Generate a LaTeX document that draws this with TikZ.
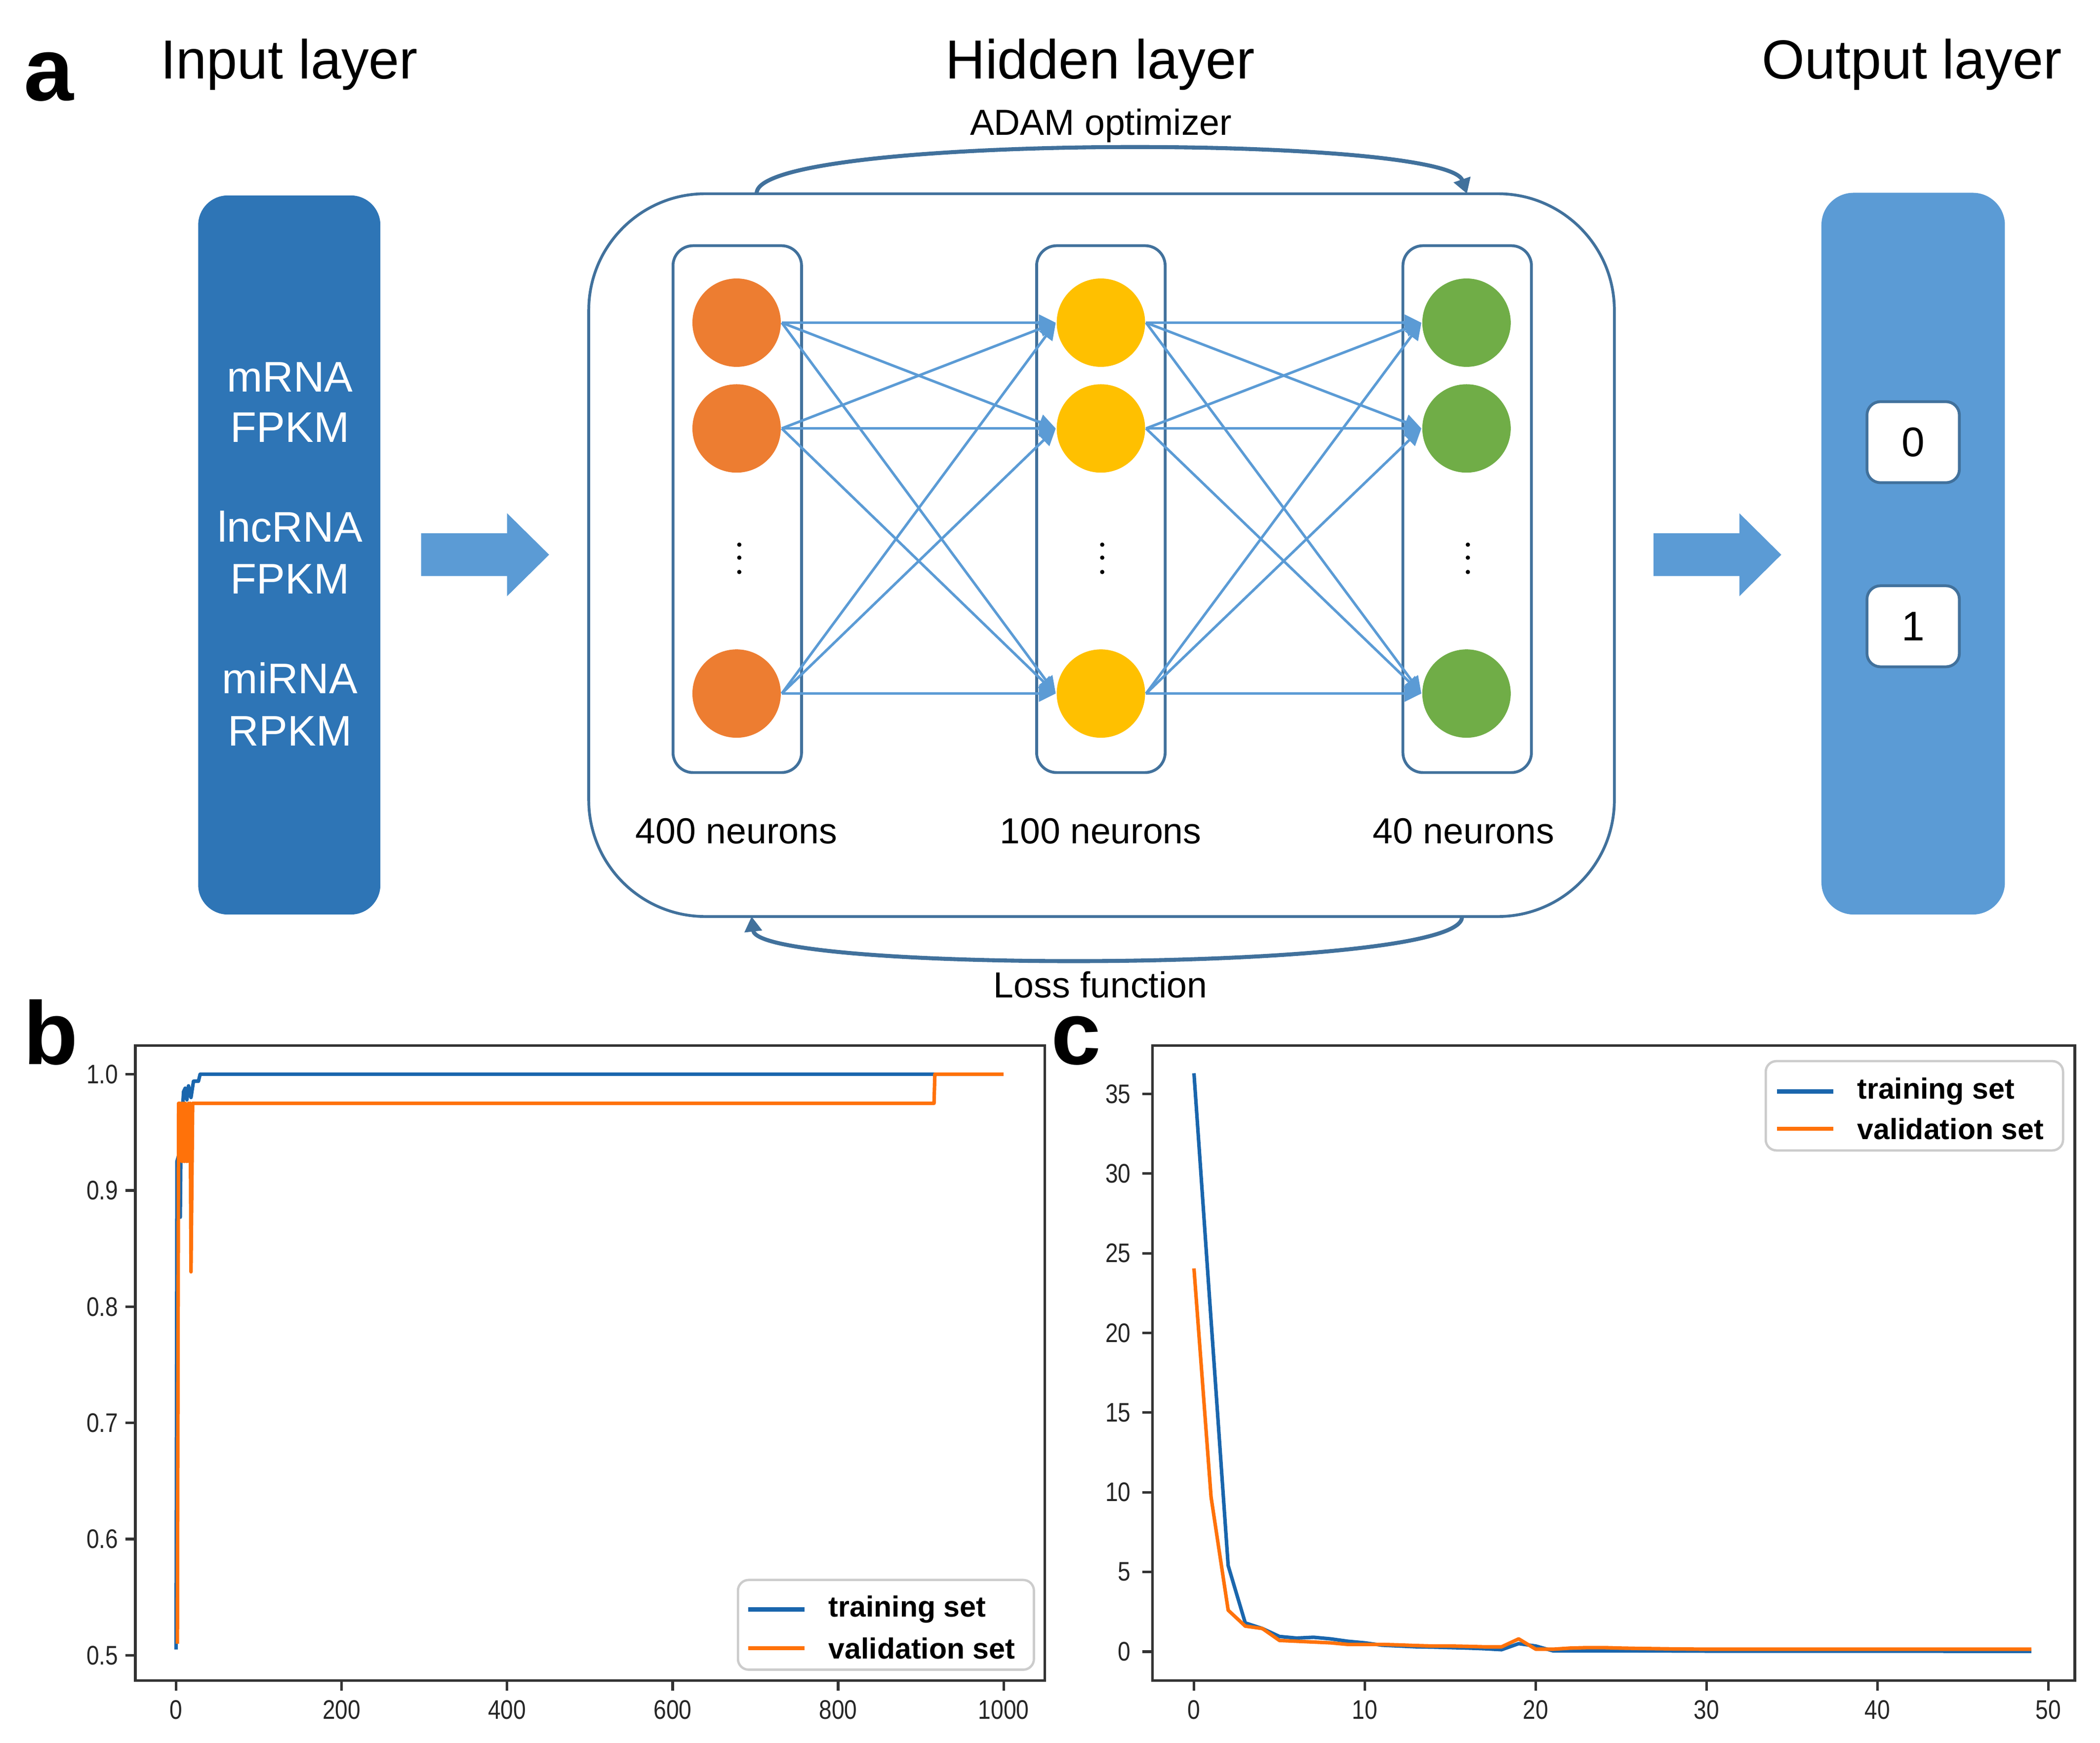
\documentclass[tikz,border=0pt]{standalone}
\usepackage{fontspec}
\setmainfont{Liberation Sans}
\newfontfamily\narrowsans[FakeStretch=0.85]{Liberation Sans}
\usetikzlibrary{arrows.meta}
\definecolor{inblue}{HTML}{2E75B6}
\definecolor{lblue}{HTML}{5B9BD5}
\definecolor{edgeblue}{HTML}{41719C}
\definecolor{norange}{HTML}{ED7D31}
\definecolor{nyellow}{HTML}{FFC000}
\definecolor{ngreen}{HTML}{70AD47}
\definecolor{pblue}{HTML}{1A66AD}
\definecolor{porange}{HTML}{FF720A}
\begin{document}
\begin{tikzpicture}[x=0.1mm,y=-0.1mm,
  title/.style={anchor=base,inner sep=0,font=\fontsize{11.7}{14}\selectfont},
  smalltxt/.style={anchor=base,inner sep=0,font=\fontsize{7.7}{9}\selectfont},
  intext/.style={anchor=base,inner sep=0,text=white,font=\fontsize{9.1}{11}\selectfont},
  panel/.style={anchor=base,inner sep=0,font=\bfseries\fontsize{19}{22}\selectfont},
  neuron/.style={circle,minimum size=6.6mm,inner sep=0},
  colbox/.style={draw=edgeblue,line width=0.6pt,rounded corners=1.5mm,minimum width=9.6mm,minimum height=39.35mm,inner sep=0},
  outsmall/.style={draw=edgeblue,line width=0.6pt,fill=white,rounded corners=1mm,minimum width=6.9mm,minimum height=6.05mm,inner sep=0,font=\fontsize{8.8}{10}\selectfont},
  conn/.style={draw=lblue,line width=0.55pt,-{Triangle[length=3.6pt,width=3.4pt]}},
  loopar/.style={draw=edgeblue,line width=0.85pt,-{Triangle[length=3.2pt,width=3.6pt]}},
  blockar/.style={fill=lblue},
  frame/.style={draw=black!80,line width=0.55pt},
  tickst/.style={draw=black!80,line width=0.55pt},
  ticklab/.style={inner sep=0,text=black!85,font=\narrowsans\fontsize{5.7}{6.5}\selectfont},
  legbox/.style={draw=black!20,line width=0.5pt,fill=white,rounded corners=0.8mm},
  legtext/.style={anchor=west,inner sep=0,font=\bfseries\fontsize{6.2}{7}\selectfont},
  blueline/.style={draw=pblue,line width=0.75pt,line join=round},
  orangeline/.style={draw=porange,line width=0.75pt,line join=round},
  legblue/.style={draw=pblue,line width=0.9pt},
  legorange/.style={draw=porange,line width=0.9pt}
]
\useasboundingbox (0,0) rectangle (1568,1301.75);

% ---------- panel a ----------
\node[panel] (la) at (36.5,75) {a};
\node[title] (tin) at (216,58.8) {Input layer};
\node[title] (thid) at (821.5,58.8) {Hidden layer};
\node[title] (tout) at (1427.5,58.8) {Output layer};
\node[smalltxt] (adam) at (822,101) {ADAM optimizer};

% input box
\node[fill=inblue,rounded corners=2.2mm,minimum width=13.6mm,minimum height=53.7mm,inner sep=0] (inbox) at (216,414.5) {};
\node[intext] (i1) at (216.5,292.6) {mRNA};
\node[intext] (i2) at (216.5,330.3) {FPKM};
\node[intext] (i3) at (216.5,404.8) {lncRNA};
\node[intext] (i4) at (216.5,443.3) {FPKM};
\node[intext] (i5) at (216.5,518.1) {miRNA};
\node[intext] (i6) at (216.5,557.2) {RPKM};

% block arrows
\fill[blockar] (314.4,398.3) -- (378.6,398.3) -- (378.6,383.3) -- (410,414.3) -- (378.6,445.3) -- (378.6,430.2) -- (314.4,430.2) -- cycle;
\fill[blockar] (1234.7,398.3) -- (1298.7,398.3) -- (1298.7,383.3) -- (1330,414.3) -- (1298.7,445.3) -- (1298.7,430.2) -- (1234.7,430.2) -- cycle;

% hidden container
\node[draw=edgeblue,line width=0.6pt,rounded corners=8.7mm,minimum width=76.58mm,minimum height=53.98mm,inner sep=0] (hid) at (822.5,414.6) {};

% loops
\coordinate (adamL) at (565,144.7);
\coordinate (adamR) at (1095.3,144.7);
\coordinate (lossR) at (1091.6,684.5);
\coordinate (lossL) at (561.2,684.5);
\draw[loopar] (adamL) .. controls (562,100) and (1080,100) .. (adamR);
\draw[loopar] (lossR) .. controls (1095,727) and (566,727) .. (lossL);
\node[smalltxt] (loss) at (821.6,745) {Loss function};

% columns
\node[colbox] (c1) at (550.5,380.25) {};
\node[colbox] (c2) at (822,380.25) {};
\node[colbox] (c3) at (1095.5,380.25) {};

% neurons
\foreach \i/\yy in {1/241,2/320,3/518}{
  \node[neuron,fill=norange] (o\i) at (550,\yy) {};
  \node[neuron,fill=nyellow] (y\i) at (822,\yy) {};
  \node[neuron,fill=ngreen] (g\i) at (1095,\yy) {};
}
\foreach \s in {1,2,3}{
  \foreach \t in {1,2,3}{
    \draw[conn] (o\s.east) -- (y\t.west);
    \draw[conn] (y\s.east) -- (g\t.west);
  }
}
% vertical dots
\foreach \cx in {552,823,1096}{
  \foreach \dy in {406.8,416.5,427.2}{
    \fill (\cx,\dy) circle[radius=0.16mm];
  }
}
\node[smalltxt] (n400) at (549.8,630) {400 neurons};
\node[smalltxt] (n100) at (821.8,630) {100 neurons};
\node[smalltxt] (n40) at (1092.8,630) {40 neurons};

% output box
\node[fill=lblue,rounded corners=2.4mm,minimum width=13.7mm,minimum height=53.9mm,inner sep=0] (outbox) at (1428.5,413.5) {};
\node[outsmall] (box0) at (1428.5,330.25) {0};
\node[outsmall] (box1) at (1428.5,467.75) {1};

% ---------- panel b ----------
\node[panel] (lb) at (38,795) {b};
\draw[frame] (101,781) rectangle (780,1255);
\foreach \v [count=\i] in {0.5,0.6,0.7,0.8,0.9,1.0}{
  \pgfmathsetmacro\Y{1670.3-\v*868}
  \draw[tickst] (93.5,\Y) -- (101,\Y);
  \node[ticklab,anchor=east] (byl\i) at (89,\Y) {\v};
}
\foreach \v [count=\i] in {0,200,400,600,800,1000}{
  \pgfmathsetmacro\X{131.5+\v*0.6179}
  \draw[tickst] (\X,1255) -- (\X,1262.6);
  \node[ticklab] (bxl\i) at (\X,1277) {\v};
}
\begin{scope}[shift={(131.5,1670.3)},x=0.06179mm,y=86.8mm]
\draw[blueline] plot coordinates {(0,0.505) (1,0.925) (3,0.93) (5,0.877) (6,0.95) (9,0.985) (11,0.988) (13,0.978) (15,0.99) (18,0.98) (21,0.994) (27,0.994) (29,1.0) (1000,1.0)};
\draw[orangeline] plot coordinates {(1.5,0.51) (3,0.975) (5,0.975) (7,0.925) (8,0.975) (10,0.925) (11,0.975) (13,0.925) (15,0.975) (16,0.925) (17,0.975) (18,0.83) (20,0.975) (916,0.975) (917,1.0) (1000,1.0)};
\end{scope}
\draw[legbox] (551,1180) rectangle (772,1247);
\draw[legblue] (558.7,1202) -- (600.7,1202);
\draw[legorange] (558.7,1231) -- (600.7,1231);
\node[legtext] (blt) at (618,1202) {training set};
\node[legtext] (blv) at (618,1231) {validation set};

% ---------- panel c ----------
\node[panel] (lc) at (803.5,795) {c};
\draw[frame] (860.6,781) rectangle (1549.2,1255);
\foreach \v [count=\i] in {0,5,10,15,20,25,30,35}{
  \pgfmathsetmacro\Y{1233.5-\v*11.9}
  \draw[tickst] (853,\Y) -- (860.6,\Y);
  \node[ticklab,anchor=east] (cyl\i) at (845,\Y) {\v};
}
\foreach \v [count=\i] in {0,10,20,30,40,50}{
  \pgfmathsetmacro\X{891.5+\v*12.76}
  \draw[tickst] (\X,1255) -- (\X,1262.6);
  \node[ticklab] (cxl\i) at (\X,1277) {\v};
}
\begin{scope}[shift={(891.5,1233.5)},x=1.276mm,y=1.19mm]
\draw[blueline] plot coordinates {(0,36.3) (1,20.8) (2,5.4) (3,1.8) (4,1.45) (5,0.95) (6,0.85) (7,0.9) (8,0.8) (9,0.65) (10,0.55) (11,0.4) (12,0.35) (13,0.3) (14,0.28) (15,0.25) (16,0.22) (17,0.18) (18,0.12) (19,0.5) (20,0.35) (21,0.05) (25,0.05) (30,0.03) (49,0.02)};
\draw[orangeline] plot coordinates {(0,24.05) (1,9.7) (2,2.6) (3,1.6) (4,1.45) (5,0.7) (6,0.65) (7,0.6) (8,0.55) (9,0.45) (10,0.45) (11,0.45) (12,0.42) (13,0.38) (14,0.35) (15,0.35) (16,0.33) (17,0.3) (18,0.3) (19,0.8) (20,0.15) (21,0.15) (22,0.22) (23,0.25) (24,0.25) (25,0.22) (26,0.2) (28,0.17) (30,0.15) (49,0.15)};
\end{scope}
\draw[legbox] (1318.4,792.5) rectangle (1540.4,859.2);
\draw[legblue] (1326.7,815.2) -- (1368.7,815.2);
\draw[legorange] (1326.7,843) -- (1368.7,843);
\node[legtext] (clt) at (1386,815.2) {training set};
\node[legtext] (clv) at (1386,843) {validation set};
\end{tikzpicture}
\end{document}
